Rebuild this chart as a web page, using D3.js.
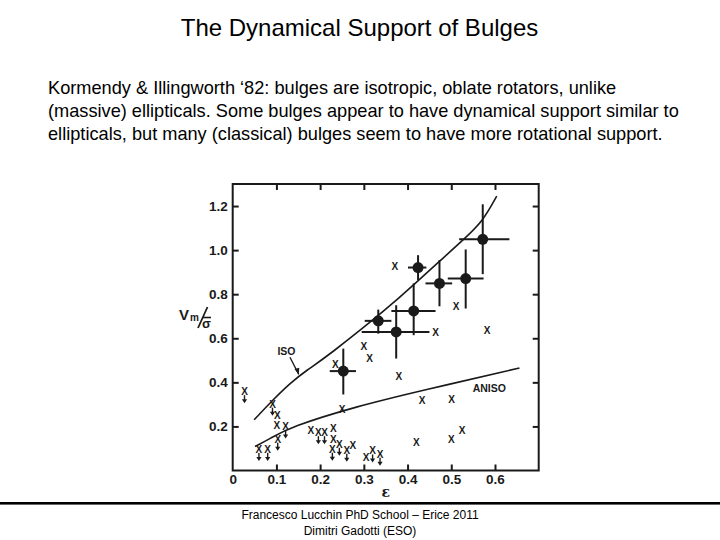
<!DOCTYPE html>
<html><head><meta charset="utf-8">
<script src="https://cdn.jsdelivr.net/npm/d3@7"></script>
<style>body{margin:0;background:#fff}svg{display:block}</style>
</head><body>
<script>
// ---- data ----
const titleText = "The Dynamical Support of Bulges";
const paraLines = [
  "Kormendy & Illingworth \u201882: bulges are isotropic, oblate rotators, unlike",
  "(massive) ellipticals. Some bulges appear to have dynamical support similar to",
  "ellipticals, but many (classical) bulges seem to have more rotational support."
];
const footerLines = ["Francesco Lucchin PhD School \u2013 Erice 2011", "Dimitri Gadotti (ESO)"];

const xTicks = [0, 0.1, 0.2, 0.3, 0.4, 0.5, 0.6];
const yTicks = [0.2, 0.4, 0.6, 0.8, 1.0, 1.2];

// bulges with error bars (filled circles)
const bEps   = [0.572, 0.533, 0.473, 0.424, 0.414, 0.333, 0.374, 0.253];
const bV     = [1.049, 0.871, 0.849, 0.921, 0.724, 0.679, 0.629, 0.451];
const bEpsLo = [0.518, 0.492, 0.441, 0.401, 0.363, 0.302, 0.295, 0.222];
const bEpsHi = [0.633, 0.574, 0.502, 0.443, 0.464, 0.363, 0.450, 0.282];
const bVLo   = [0.891, 0.735, 0.745, 0.864, 0.614, 0.621, 0.508, 0.345];
const bVHi   = [1.208, 1.003, 0.955, 0.977, 0.849, 0.730, 0.750, 0.553];

// ellipticals (x markers)
const eEps = [0.371, 0.511, 0.464, 0.582, 0.300, 0.313, 0.235, 0.380, 0.433, 0.501, 0.250, 0.525, 0.500, 0.420,
              0.102, 0.101, 0.179, 0.230, 0.230, 0.275, 0.305];
const eV   = [0.927, 0.745, 0.629, 0.636, 0.564, 0.511, 0.485, 0.427, 0.318, 0.323, 0.280, 0.185, 0.144, 0.129,
              0.250, 0.205, 0.182, 0.194, 0.144, 0.114, 0.061];

// upper limits (x with down arrow)
const uEps = [0.027, 0.091, 0.121, 0.103, 0.060, 0.080, 0.196, 0.210, 0.228, 0.244, 0.261, 0.320, 0.337];
const uV   = [0.360, 0.303, 0.200, 0.144, 0.098, 0.098, 0.174, 0.174, 0.099, 0.121, 0.094, 0.091, 0.076];

// model curves
const isoEps = [0.049, 0.092, 0.130, 0.169, 0.215, 0.360, 0.413, 0.474, 0.535, 0.573, 0.604];
const isoV   = [0.230, 0.320, 0.394, 0.455, 0.515, 0.745, 0.841, 0.951, 1.060, 1.134, 1.245];
const anisoEps = [0.051, 0.085, 0.131, 0.283, 0.435, 0.656];
const anisoV   = [0.109, 0.144, 0.197, 0.291, 0.364, 0.465];

// ---- drawing ----
const W = 720, H = 540;
const svg = d3.select("body").append("svg").attr("width", W).attr("height", H);
const ink = "#1a1a1a";
const sans = "Liberation Sans, Arial, sans-serif";

svg.append("text").attr("x", 359.5).attr("y", 36).attr("text-anchor", "middle")
  .style("font-family", sans).style("font-size", "24px").attr("fill", "#000")
  .text(titleText);

paraLines.forEach((t, i) => {
  svg.append("text").attr("x", 48).attr("y", 94 + i * 23)
    .style("font-family", sans).style("font-size", "18.2px").attr("fill", "#000")
    .text(t);
});

// footer
svg.append("rect").attr("x", 0).attr("y", 502).attr("width", W).attr("height", 2.6).attr("fill", "#000");
footerLines.forEach((t, i) => {
  svg.append("text").attr("x", 360).attr("y", 519 + i * 15.5).attr("text-anchor", "middle")
    .style("font-family", sans).style("font-size", "12px").attr("fill", "#000")
    .text(t);
});

// plot
const x = d3.scaleLinear().domain([0, 0.7]).range([232.7, 538.7]);
const y = d3.scaleLinear().domain([0, 1.3]).range([470.5, 184]);

const g = svg.append("g");
g.append("rect").attr("x", x(0)).attr("y", y(1.3)).attr("width", x(0.7) - x(0)).attr("height", y(0) - y(1.3))
  .attr("fill", "none").attr("stroke", ink).attr("stroke-width", 2);

const fmt = d => d === 0 ? "0" : d.toFixed(1);
const tickStyle = sel => {
  sel.select(".domain").remove();
  sel.selectAll(".tick line").attr("stroke", ink).attr("stroke-width", 2);
  sel.selectAll(".tick text").attr("fill", ink)
    .style("font-family", sans).style("font-size", "13.5px").style("font-weight", "bold");
};
g.append("g").attr("transform", `translate(0,${y(0)})`)
  .call(d3.axisBottom(x).tickValues(xTicks).tickFormat(fmt).tickSizeInner(-6).tickPadding(4))
  .call(tickStyle)
  .call(s => s.selectAll(".tick").filter(d => d === 0).select("line").remove());
g.append("g").attr("transform", `translate(0,${y(1.3)})`)
  .call(d3.axisTop(x).tickValues(xTicks.filter(d => d > 0)).tickFormat("").tickSizeInner(-6))
  .call(tickStyle);
g.append("g").attr("transform", `translate(${x(0)},0)`)
  .call(d3.axisLeft(y).tickValues(yTicks).tickFormat(fmt).tickSizeInner(-6).tickPadding(4))
  .call(tickStyle)
  .call(s => s.selectAll(".tick text").attr("x", -5));
g.append("g").attr("transform", `translate(${x(0.7)},0)`)
  .call(d3.axisRight(y).tickValues(yTicks).tickFormat("").tickSizeInner(-6))
  .call(tickStyle);

// axis labels
g.append("text").attr("x", x(0.35)).attr("y", 497).attr("text-anchor", "middle")
  .style("font-family", "DejaVu Serif, serif").style("font-size", "14px").style("font-weight", "bold").attr("fill", ink)
  .text("\u03b5");
const yl = g.append("g").attr("fill", ink).style("font-family", sans).style("font-weight", "bold");
yl.append("text").attr("x", 179).attr("y", 320).style("font-size", "15px").text("V");
yl.append("text").attr("x", 190).attr("y", 321).style("font-size", "10px").text("m");
yl.append("line").attr("x1", 198).attr("y1", 328).attr("x2", 207.5).attr("y2", 307).attr("stroke", ink).attr("stroke-width", 1.8);
yl.append("text").attr("x", 202).attr("y", 328).style("font-size", "13px").text("\u03c3");
yl.append("line").attr("x1", 203).attr("y1", 317.5).attr("x2", 211).attr("y2", 317.5).attr("stroke", ink).attr("stroke-width", 1.6);

// curves
const line = d3.line().x(d => x(d[0])).y(d => y(d[1])).curve(d3.curveBasis);
g.append("path").attr("d", line(isoEps.map((e, i) => [e, isoV[i]])))
  .attr("fill", "none").attr("stroke", ink).attr("stroke-width", 1.6);
g.append("path").attr("d", line(anisoEps.map((e, i) => [e, anisoV[i]])))
  .attr("fill", "none").attr("stroke", ink).attr("stroke-width", 1.6);

const lab = sel => sel.style("font-family", sans).style("font-size", "10.5px")
  .style("font-weight", "bold").attr("fill", ink);
g.append("text").attr("x", x(0.123)).attr("y", y(0.544) + 4).attr("text-anchor", "middle").call(lab).text("ISO");
g.append("text").attr("x", x(0.587)).attr("y", y(0.376) + 4).attr("text-anchor", "middle").call(lab).text("ANISO");
// ISO arrow
g.append("line").attr("x1", x(0.131)).attr("y1", y(0.514)).attr("x2", x(0.151)).attr("y2", y(0.436))
  .attr("stroke", ink).attr("stroke-width", 1.3);
{
  const ax = x(0.151), ay = y(0.436);
  g.append("path").attr("d", `M${ax},${ay} L${ax - 4.2},${ay - 5.5} L${ax + 0.6},${ay - 6.6} Z`).attr("fill", ink);
}

// error bars + circles
bEps.forEach((e, i) => {
  g.append("line").attr("x1", x(bEpsLo[i])).attr("x2", x(bEpsHi[i])).attr("y1", y(bV[i])).attr("y2", y(bV[i]))
    .attr("stroke", ink).attr("stroke-width", 2);
  g.append("line").attr("x1", x(e)).attr("x2", x(e)).attr("y1", y(bVLo[i])).attr("y2", y(bVHi[i]))
    .attr("stroke", ink).attr("stroke-width", 2);
  g.append("circle").attr("cx", x(e)).attr("cy", y(bV[i])).attr("r", 5.5).attr("fill", ink);
});

// x markers
const xm = (e, v) => g.append("text").attr("x", x(e)).attr("y", y(v) + 4).attr("text-anchor", "middle")
  .style("font-family", sans).style("font-size", "10px").style("font-weight", "bold")
  .attr("fill", ink).text("X");
eEps.forEach((e, i) => xm(e, eV[i]));
uEps.forEach((e, i) => {
  xm(e, uV[i]);
  const cx = x(e), cy = y(uV[i]);
  g.append("line").attr("x1", cx).attr("x2", cx).attr("y1", cy + 4).attr("y2", cy + 10).attr("stroke", ink).attr("stroke-width", 1.4);
  g.append("path").attr("d", `M${cx - 2.6},${cy + 8} L${cx + 2.6},${cy + 8} L${cx},${cy + 12} Z`).attr("fill", ink);
});
</script>
</body></html>
